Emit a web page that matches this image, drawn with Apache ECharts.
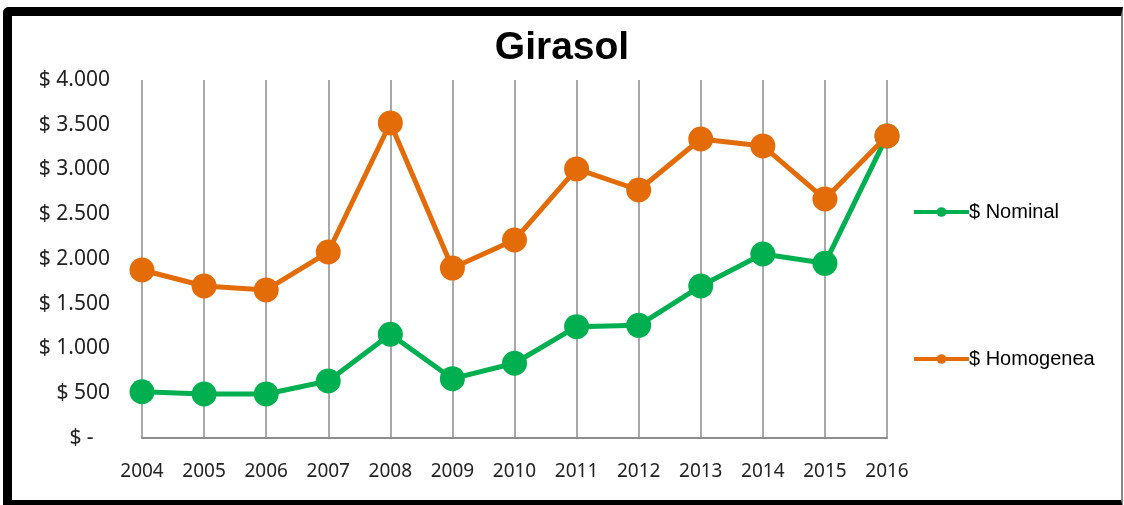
<!DOCTYPE html>
<html>
<head>
<meta charset="utf-8">
<script src="https://cdn.jsdelivr.net/npm/echarts@6/dist/echarts.min.js"></script>
<style>
  html, body { margin: 0; padding: 0; background: #fff; overflow: hidden; }
  #frame { position: absolute; left: 3px; top: 7px; width: 1109px; height: 484px; border: 9px solid #000; border-right: 2px solid #888; border-radius: 6px 0 0 0; }
  #main { position: absolute; left: 0; top: 0; width: 1124px; height: 505px; }
</style>
</head>
<body>
<div id="frame"></div>
<div id="main"></div>
<script>
var years = ['2004', '2005', '2006', '2007', '2008', '2009', '2010', '2011', '2012', '2013', '2014', '2015', '2016'];
var nominal = [517, 492, 492, 637, 1159, 663, 835, 1244, 1259, 1698, 2056, 1952, 3375];
var homogenea = [1877, 1698, 1654, 2078, 3520, 1899, 2212, 3006, 2771, 3341, 3263, 2670, 3374];
var yTickLabels = ['$ -   ', '$ 500', '$ 1.000', '$ 1.500', '$ 2.000', '$ 2.500', '$ 3.000', '$ 3.500', '$ 4.000'];

var chart = echarts.init(document.getElementById('main'));
var labelFont = "'Noto Sans', sans-serif";
var legendText = { fontFamily: "'Liberation Sans', sans-serif", fontSize: 20, color: '#000', padding: [0, 0, 0, -5] };
var option = {
	animation: false,
	title: {
		text: 'Girasol',
		left: 'center',
		top: 24,
		textStyle: { fontFamily: "'Liberation Sans', sans-serif", fontWeight: 'bold', fontSize: 39, color: '#000' }
	},
	legend: [
		{ left: 907, top: 197, itemWidth: 55, itemHeight: 12, textStyle: legendText, lineStyle: { width: 4 }, data: ['$ Nominal'] },
		{ left: 907, top: 344, itemWidth: 55, itemHeight: 12, textStyle: legendText, lineStyle: { width: 4 }, data: ['$ Homogenea'] }
	],
	grid: { left: 142, right: 237, top: 80, bottom: 67 },
	xAxis: {
		type: 'category',
		boundaryGap: false,
		data: years,
		axisLine: { lineStyle: { color: '#8c8c8c', width: 2 } },
		axisTick: { show: false },
		splitLine: { show: true, lineStyle: { color: '#8c8c8c', width: 1.5 } },
		axisLabel: { fontFamily: labelFont, fontSize: 19, color: '#222', margin: 24 }
	},
	yAxis: {
		type: 'value',
		min: 0,
		max: 4000,
		interval: 500,
		axisLine: { show: false },
		axisTick: { show: false },
		splitLine: { show: false },
		axisLabel: {
			fontFamily: labelFont, fontSize: 21, color: '#222', margin: 32,
			formatter: function (v) { return yTickLabels[Math.round(v / 500)]; }
		}
	},
	series: [
		{
			name: '$ Nominal',
			type: 'line',
			data: nominal,
			color: '#00b050',
			symbol: 'circle',
			symbolSize: 25,
			lineStyle: { width: 5 }
		},
		{
			name: '$ Homogenea',
			type: 'line',
			data: homogenea,
			color: '#e36c09',
			symbol: 'circle',
			symbolSize: 25,
			lineStyle: { width: 5 }
		}
	]
};
chart.setOption(option);
</script>
</body>
</html>
